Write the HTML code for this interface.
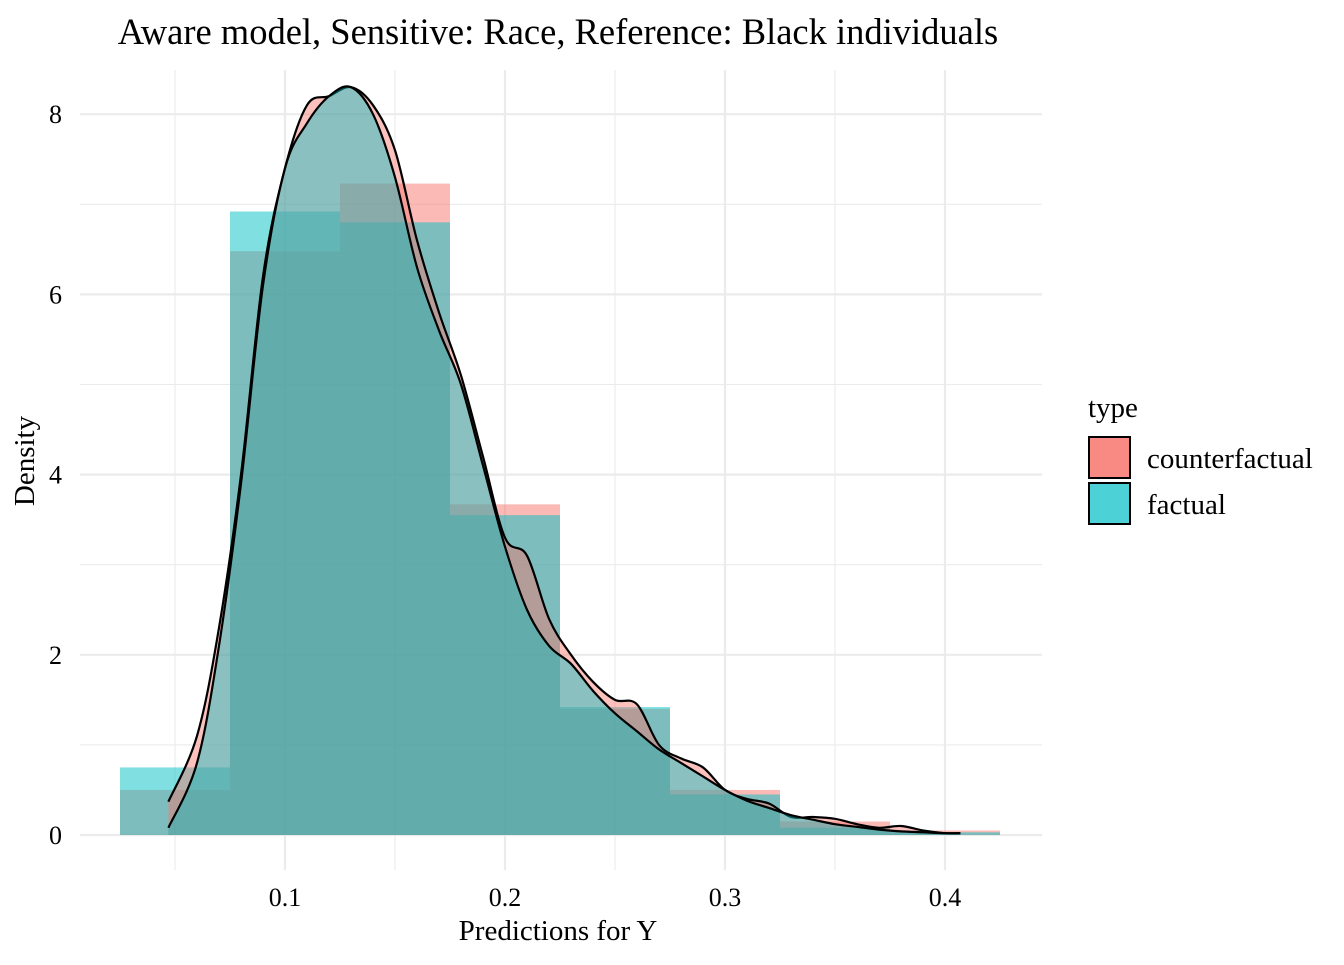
<!DOCTYPE html>
<html><head><meta charset="utf-8"><style>
body{margin:0;background:#fff;}
svg text{font-family:"Liberation Serif",serif;fill:#000;}
</style></head><body>
<svg id="chart" width="1344" height="960">
<text x="558" y="44" font-size="36.5" text-anchor="middle">Aware model, Sensitive: Race, Reference: Black individuals</text>
<g id="grid"></g><g id="hist"></g><g id="dens"></g><g id="axes"></g>
<text x="558" y="940" font-size="29" text-anchor="middle">Predictions for Y</text>
<text transform="translate(34,461) rotate(-90)" font-size="29" text-anchor="middle">Density</text>
<g>
<text x="1088" y="417" font-size="29">type</text>
<rect x="1089" y="437" width="41" height="41" fill="#F8766D" fill-opacity="0.85" stroke="#000" stroke-width="2"/>
<text x="1147" y="468" font-size="29">counterfactual</text>
<rect x="1089" y="483" width="41" height="41" fill="#00BFC4" fill-opacity="0.7" stroke="#000" stroke-width="2"/>
<text x="1147" y="514" font-size="29">factual</text>
</g>
</svg>
<script>
const binEdges=[0.025,0.075,0.125,0.175,0.225,0.275,0.325,0.375,0.425];
const histCounterfactual=[0.5,6.48,7.23,3.67,1.4,0.5,0.15,0.05];
const histFactual=[0.75,6.92,6.8,3.55,1.42,0.45,0.08,0.03];
const densX=[0.047,0.06,0.07,0.08,0.09,0.1,0.11,0.12,0.13,0.14,0.15,0.16,0.17,0.18,0.19,0.2,0.21,0.22,0.23,0.24,0.25,0.26,0.27,0.28,0.29,0.3,0.31,0.32,0.33,0.34,0.35,0.36,0.37,0.38,0.39,0.4,0.407];
const densCounterfactual=[0.37,1.1,2.3,4.0,6.2,7.4,8.1,8.2,8.3,8.1,7.6,6.6,5.8,5.1,4.2,3.3,3.1,2.4,2.0,1.7,1.5,1.45,1.0,0.85,0.75,0.5,0.4,0.35,0.2,0.2,0.18,0.12,0.08,0.1,0.05,0.02,0.02];
const densFactual=[0.08,0.8,2.1,3.9,6.1,7.4,7.9,8.2,8.3,8.0,7.3,6.3,5.6,5.0,4.1,3.2,2.5,2.1,1.9,1.6,1.35,1.15,0.95,0.8,0.65,0.5,0.38,0.3,0.22,0.17,0.12,0.09,0.06,0.04,0.03,0.02,0.02];
const xTicks=[0.1,0.2,0.3,0.4];
const yTicks=[0,2,4,6,8];
const NS="http://www.w3.org/2000/svg";
const X=v=>285+(v-0.1)*2200;
const Y=v=>835-v*90.1;
function mk(tag,attrs,parent){const e=document.createElementNS(NS,tag);for(const k in attrs)e.setAttribute(k,attrs[k]);parent.appendChild(e);return e;}
const grid=document.getElementById('grid'),hist=document.getElementById('hist'),dens=document.getElementById('dens'),axes=document.getElementById('axes');
for(let v=0.05;v<=0.4001;v+=0.05){const major=Math.abs(v*10-Math.round(v*10))<1e-6;
 const l=mk('line',{x1:X(v),x2:X(v),y1:70,y2:870,stroke:'#ebebeb','stroke-width':major?2.2:1.1},grid);
 }
for(let v=0;v<=8;v++){const l=mk('line',{x1:80,x2:1042,y1:Y(v),y2:Y(v),stroke:'#ebebeb','stroke-width':v%2==0?2.2:1.1},grid);
 }
function bars(vals,color,name){vals.forEach((v,i)=>{const r=mk('rect',{x:X(binEdges[i]),y:Y(v),width:X(binEdges[i+1])-X(binEdges[i]),height:Y(0)-Y(v),fill:color,'fill-opacity':0.5},hist);
 });}
bars(histCounterfactual,'#F8766D','hist-bar-counterfactual');
bars(histFactual,'#00BFC4','hist-bar-factual');
function smooth(pts){let d=`M${pts[0][0]},${pts[0][1]}`;for(let i=0;i<pts.length-1;i++){const p0=pts[Math.max(0,i-1)],p1=pts[i],p2=pts[i+1],p3=pts[Math.min(pts.length-1,i+2)];
 d+=` C${p1[0]+(p2[0]-p0[0])/6},${p1[1]+(p2[1]-p0[1])/6} ${p2[0]-(p3[0]-p1[0])/6},${p2[1]-(p3[1]-p1[1])/6} ${p2[0]},${p2[1]}`;}return d;}
function curve(vals,color,name){const pts=densX.map((x,i)=>[X(x),Y(vals[i])]);const line=smooth(pts);
 const f=mk('path',{d:line+` L${X(densX[densX.length-1])},${Y(0)} L${X(densX[0])},${Y(0)} Z`,fill:color,'fill-opacity':0.45,stroke:'none'},dens);
 
 const l=mk('path',{d:line,fill:'none',stroke:'#000','stroke-width':2.2},dens);
 }
curve(densCounterfactual,'#F8766D','density-counterfactual');
curve(densFactual,'#00BFC4','density-factual');
xTicks.forEach(v=>{const t=mk('text',{x:X(v),y:906,'font-size':26,'text-anchor':'middle'},axes);t.textContent=v.toFixed(1);
 });
yTicks.forEach(v=>{const t=mk('text',{x:62,y:Y(v)+9,'font-size':26,'text-anchor':'end'},axes);t.textContent=v;
 });
</script>
</body></html>
